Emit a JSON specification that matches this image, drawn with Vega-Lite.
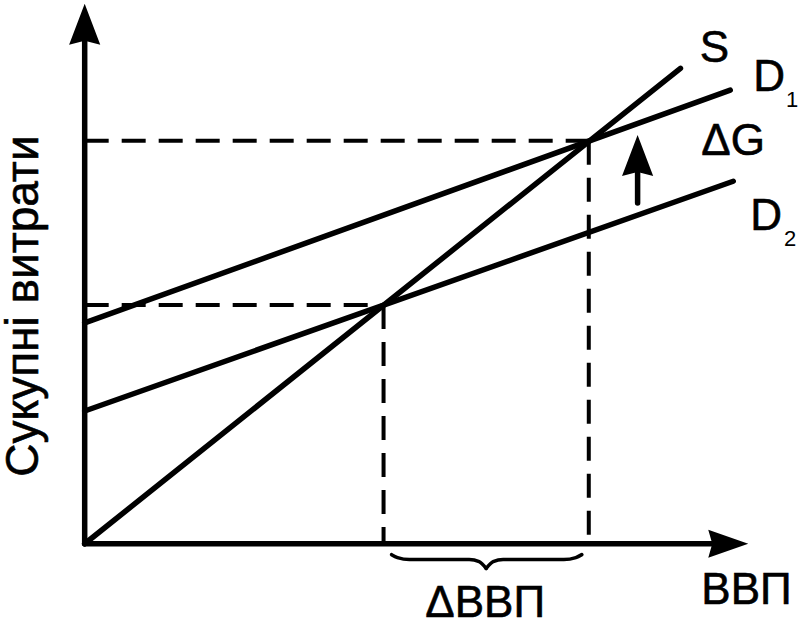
{
  "$schema": "https://vega.github.io/schema/vega-lite/v6.json",
  "width": 799,
  "height": 626,
  "autosize": {"type": "fit", "contains": "padding"},
  "padding": 0,
  "background": "white",
  "config": {"view": {"stroke": null}},
  "datasets": {
    "solid": [
      {"id": "axisY", "o": 0, "x": 0, "y": 0}, {"id": "axisY", "o": 1, "x": 0, "y": 510},
      {"id": "axisX", "o": 0, "x": 0, "y": 0}, {"id": "axisX", "o": 1, "x": 630, "y": 0},
      {"id": "S", "o": 0, "x": 0, "y": 0}, {"id": "S", "o": 1, "x": 598, "y": 480},
      {"id": "D1", "o": 0, "x": 0, "y": 223}, {"id": "D1", "o": 1, "x": 648, "y": 458},
      {"id": "D2", "o": 0, "x": 0, "y": 134}, {"id": "D2", "o": 1, "x": 651, "y": 366},
      {"id": "dG", "o": 0, "x": 555, "y": 344}, {"id": "dG", "o": 1, "x": 555, "y": 380}
    ],
    "dashed": [
      {"id": "h1", "o": 0, "x": 0, "y": 407}, {"id": "h1", "o": 1, "x": 506, "y": 407},
      {"id": "v1", "o": 0, "x": 506, "y": 407}, {"id": "v1", "o": 1, "x": 506, "y": 0},
      {"id": "h2", "o": 0, "x": 0, "y": 241}, {"id": "h2", "o": 1, "x": 300, "y": 241},
      {"id": "v2", "o": 0, "x": 300, "y": 241}, {"id": "v2", "o": 1, "x": 300, "y": 0}
    ],
    "brace": [
      {"part": "L", "x": 308, "y": -11}, {"part": "L", "x": 314, "y": -14}, {"part": "L", "x": 326, "y": -16},
      {"part": "L", "x": 386, "y": -16}, {"part": "L", "x": 396, "y": -18}, {"part": "L", "x": 403, "y": -25},
      {"part": "R", "x": 403, "y": -25}, {"part": "R", "x": 410, "y": -18}, {"part": "R", "x": 420, "y": -16},
      {"part": "R", "x": 481, "y": -16}, {"part": "R", "x": 493, "y": -14}, {"part": "R", "x": 499, "y": -11}
    ],
    "heads": [
      {"dir": "up", "x": 0, "y": 524.5},
      {"dir": "up", "x": 555, "y": 392},
      {"dir": "right", "x": 646, "y": 0}
    ],
    "labels": [
      {"t": "S", "x": 632, "y": 486, "role": "c"},
      {"t": "D", "x": 671, "y": 457, "role": "l"},
      {"t": "1", "x": 704, "y": 441, "role": "sub"},
      {"t": "ΔG", "x": 619, "y": 392, "role": "l"},
      {"t": "D", "x": 668, "y": 317, "role": "l"},
      {"t": "2", "x": 702, "y": 301, "role": "sub"},
      {"t": "ВВП", "x": 619, "y": -61, "role": "l"},
      {"t": "ΔВВП", "x": 402, "y": -74, "role": "c"},
      {"t": "Сукупні витрати", "x": -47, "y": 240, "role": "v"}
    ]
  },
  "encoding": {
    "x": {"field": "x", "type": "quantitative", "scale": {"domain": [-84, 715], "nice": false, "zero": false}, "axis": null},
    "y": {"field": "y", "type": "quantitative", "scale": {"domain": [-77, 549], "nice": false, "zero": false}, "axis": null}
  },
  "layer": [
    {
      "data": {"name": "dashed"},
      "mark": {"type": "line", "color": "black", "strokeWidth": 4, "strokeDash": [24, 13], "clip": false},
      "encoding": {"detail": {"field": "id"}, "order": {"field": "o"}}
    },
    {
      "data": {"name": "solid"},
      "mark": {"type": "line", "color": "black", "strokeWidth": 5.5, "strokeCap": "round", "clip": false},
      "encoding": {"detail": {"field": "id"}, "order": {"field": "o"}}
    },
    {
      "data": {"name": "brace"},
      "mark": {"type": "line", "color": "black", "strokeWidth": 3.5, "interpolate": "monotone", "strokeCap": "round", "clip": false},
      "encoding": {"detail": {"field": "part"}}
    },
    {
      "data": {"name": "heads"},
      "transform": [{"filter": "datum.dir === 'up'"}],
      "mark": {"type": "point", "shape": "M0,-1L0.76,1L0,0.8L-0.76,1Z", "filled": true, "color": "black", "opacity": 1, "size": 1681, "clip": false}
    },
    {
      "data": {"name": "heads"},
      "transform": [{"filter": "datum.dir === 'right'"}],
      "mark": {"type": "point", "shape": "M1,0L-1,-0.7L-0.8,0L-1,0.7Z", "filled": true, "color": "black", "opacity": 1, "size": 1600, "clip": false}
    },
    {
      "data": {"name": "labels"},
      "transform": [{"filter": "datum.role === 'l'"}],
      "mark": {"type": "text", "font": "Liberation Sans", "fontSize": 44, "align": "left", "baseline": "alphabetic", "color": "black", "stroke": "black", "strokeWidth": 0.6},
      "encoding": {"text": {"field": "t"}}
    },
    {
      "data": {"name": "labels"},
      "transform": [{"filter": "datum.role === 'c'"}],
      "mark": {"type": "text", "font": "Liberation Sans", "fontSize": 44, "align": "center", "baseline": "alphabetic", "color": "black", "stroke": "black", "strokeWidth": 0.6},
      "encoding": {"text": {"field": "t"}}
    },
    {
      "data": {"name": "labels"},
      "transform": [{"filter": "datum.role === 'sub'"}],
      "mark": {"type": "text", "font": "Liberation Sans", "fontSize": 22, "align": "left", "baseline": "alphabetic", "color": "black"},
      "encoding": {"text": {"field": "t"}}
    },
    {
      "data": {"name": "labels"},
      "transform": [{"filter": "datum.role === 'v'"}],
      "mark": {"type": "text", "font": "Liberation Sans", "fontSize": 46, "align": "center", "baseline": "alphabetic", "angle": 270, "color": "black", "stroke": "black", "strokeWidth": 0.6},
      "encoding": {"text": {"field": "t"}}
    }
  ]
}
